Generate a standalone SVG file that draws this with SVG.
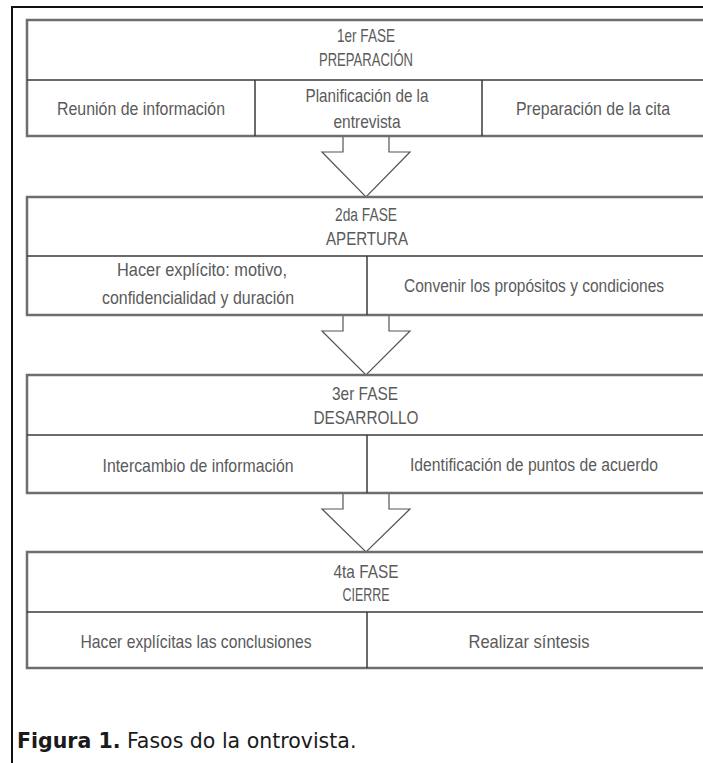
<svg xmlns="http://www.w3.org/2000/svg" width="703" height="763" viewBox="0 0 703 763">
<style>
.box{fill:#fff;stroke:#6e6e6e;stroke-width:2.5}
.div{stroke:#3a3a3a;stroke-width:1.5}
.t{font-family:"Liberation Sans Narrow","Liberation Sans",Arial,sans-serif;font-size:19px;fill:#5a5a5a;text-anchor:middle}
.s{font-size:17.5px}
.arrow{fill:#fff;stroke:#555;stroke-width:1.2;stroke-linejoin:miter}
.frame{stroke:#111;stroke-width:2;fill:none}
.cap{font-family:"DejaVu Sans",Verdana,sans-serif;font-size:20.5px;fill:#1a1a1a}
</style>
<rect width="703" height="763" fill="#fff"/>
<path class="frame" d="M12,763 V7 H703"/>

<g id="connectors">
<path class="arrow" d="M343,136 V152 H322 L366,197 L410,152 H389 V136"/>
<path class="arrow" d="M343,315 V331 H322 L366,375 L410,331 H389 V315"/>
<path class="arrow" d="M343,493 V509 H322 L366,552 L410,509 H389 V493"/>
</g>

<g id="fase1">
<path class="box" d="M703,20 H27 V136 H703"/>
<line class="div" x1="27" y1="80" x2="703" y2="80"/>
<line class="div" x1="255" y1="80" x2="255" y2="136"/>
<line class="div" x1="482" y1="80" x2="482" y2="136"/>
<text class="t" x="366" y="42" textLength="58" lengthAdjust="spacingAndGlyphs">1er FASE</text>
<text class="t" x="366" y="66" textLength="94" lengthAdjust="spacingAndGlyphs">PREPARACIÓN</text>
<text class="t" x="141" y="115" textLength="168" lengthAdjust="spacingAndGlyphs">Reunión de información</text>
<text class="t" x="367" y="102" textLength="123" lengthAdjust="spacingAndGlyphs">Planificación de la</text>
<text class="t" x="367" y="128" textLength="67" lengthAdjust="spacingAndGlyphs">entrevista</text>
<text class="t" x="593" y="115" textLength="154" lengthAdjust="spacingAndGlyphs">Preparación de la cita</text>
</g>

<g id="fase2">
<path class="box" d="M703,197 H27 V315 H703"/>
<line class="div" x1="27" y1="256" x2="703" y2="256"/>
<line class="div" x1="367" y1="256" x2="367" y2="315"/>
<text class="t" x="366" y="221" textLength="62" lengthAdjust="spacingAndGlyphs">2da FASE</text>
<text class="t" x="367" y="245" textLength="82" lengthAdjust="spacingAndGlyphs">APERTURA</text>
<text class="t" x="202" y="276" textLength="170" lengthAdjust="spacingAndGlyphs">Hacer explícito: motivo,</text>
<text class="t" x="198" y="304" textLength="192" lengthAdjust="spacingAndGlyphs">confidencialidad y duración</text>
<text class="t s" x="534" y="292" textLength="260" lengthAdjust="spacingAndGlyphs">Convenir los propósitos y condiciones</text>
</g>

<g id="fase3">
<path class="box" d="M703,375 H27 V493 H703"/>
<line class="div" x1="27" y1="435" x2="703" y2="435"/>
<line class="div" x1="367" y1="435" x2="367" y2="493"/>
<text class="t" x="365" y="400" textLength="66" lengthAdjust="spacingAndGlyphs">3er FASE</text>
<text class="t" x="366" y="424" textLength="105" lengthAdjust="spacingAndGlyphs">DESARROLLO</text>
<text class="t" x="198" y="472" textLength="191" lengthAdjust="spacingAndGlyphs">Intercambio de información</text>
<text class="t s" x="534" y="471" textLength="248" lengthAdjust="spacingAndGlyphs">Identificación de puntos de acuerdo</text>
</g>

<g id="fase4">
<path class="box" d="M703,552 H27 V668 H703"/>
<line class="div" x1="27" y1="612" x2="703" y2="612"/>
<line class="div" x1="367" y1="612" x2="367" y2="668"/>
<text class="t" x="366" y="578" textLength="65" lengthAdjust="spacingAndGlyphs">4ta FASE</text>
<text class="t" x="366" y="601" textLength="47" lengthAdjust="spacingAndGlyphs">CIERRE</text>
<text class="t" x="196" y="648" textLength="231" lengthAdjust="spacingAndGlyphs">Hacer explícitas las conclusiones</text>
<text class="t" x="529" y="648" textLength="121" lengthAdjust="spacingAndGlyphs">Realizar síntesis</text>
</g>

<g id="caption">
<text class="cap" x="17" y="748"><tspan font-weight="bold">Figura 1.</tspan> Fasos do la ontrovista.</text>
</g>
</svg>
